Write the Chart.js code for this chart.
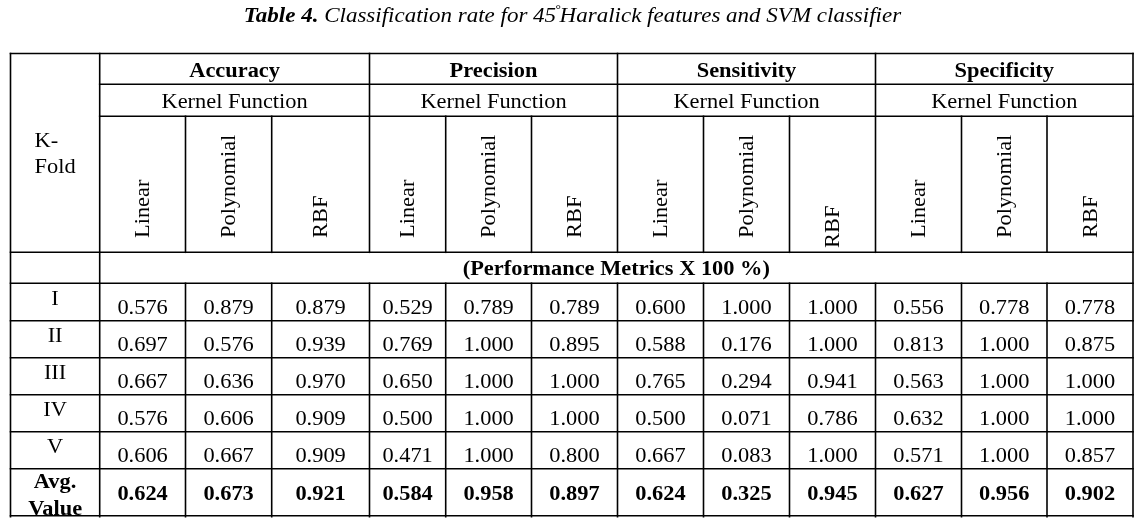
<!DOCTYPE html>
<html><head><meta charset="utf-8">
<script src="https://cdn.jsdelivr.net/npm/chart.js@4.4.0/dist/chart.umd.min.js"></script>
<style>html,body{margin:0;padding:0;background:#fff;overflow:hidden;}</style>
</head><body>
<canvas id="c" width="1140" height="524"></canvas>
<script>
// ---------------- DATA ----------------
const titleBold = 'Table 4.';
const titleText = ' Classification rate for 45';
const titleDegree = '°';
const titleTail = 'Haralick features and SVM classifier';
const metrics = ['Accuracy', 'Precision', 'Sensitivity', 'Specificity'];
const kernelHeader = 'Kernel Function';
const kernels = ['Linear', 'Polynomial', 'RBF'];
const foldHeader = ['K-', 'Fold'];
const unitsLabel = '(Performance Metrics X 100 %)';
const folds = ['I', 'II', 'III', 'IV', 'V'];
const avgLabel = ['Avg.', 'Value'];

const accuracyLinear     = [0.576, 0.697, 0.667, 0.576, 0.606];
const accuracyPoly       = [0.879, 0.576, 0.636, 0.606, 0.667];
const accuracyRBF        = [0.879, 0.939, 0.970, 0.909, 0.909];
const precisionLinear    = [0.529, 0.769, 0.650, 0.500, 0.471];
const precisionPoly      = [0.789, 1.000, 1.000, 1.000, 1.000];
const precisionRBF       = [0.789, 0.895, 1.000, 1.000, 0.800];
const sensitivityLinear  = [0.600, 0.588, 0.765, 0.500, 0.667];
const sensitivityPoly    = [1.000, 0.176, 0.294, 0.071, 0.083];
const sensitivityRBF     = [1.000, 1.000, 0.941, 0.786, 1.000];
const specificityLinear  = [0.556, 0.813, 0.563, 0.632, 0.571];
const specificityPoly    = [0.778, 1.000, 1.000, 1.000, 1.000];
const specificityRBF     = [0.778, 0.875, 1.000, 1.000, 0.857];
const avgValues = [0.624, 0.673, 0.921, 0.584, 0.958, 0.897, 0.624, 0.325, 0.945, 0.627, 0.956, 0.902];

// ---------------- LAYOUT ----------------
const columnSeries = [accuracyLinear, accuracyPoly, accuracyRBF, precisionLinear, precisionPoly, precisionRBF,
  sensitivityLinear, sensitivityPoly, sensitivityRBF, specificityLinear, specificityPoly, specificityRBF];
const colEdges = [10.5, 99.7, 185.5, 271.7, 369.5, 445.7, 531.5, 617.5, 703.5, 789.5, 875.5, 961.5, 1047, 1133];
const rowEdges = [53.5, 84.3, 116.3, 252.3, 283.3, 320.7, 357.7, 394.7, 431.7, 468.7, 515.7];
const rotOffset = [0, 0, 0, 0, 0, 0, 0, 0, 10, 0, 0, 0];
const SX = 1.12;
const TITLE_SX = 1.15;
const FONT = '"Liberation Serif", "Times New Roman", serif';

const colCenter = c => (colEdges[c] + colEdges[c + 1]) / 2;

const datasets = columnSeries.map((vals, c) => ({
  label: metrics[Math.floor(c / 3)] + ' ' + kernels[c % 3],
  data: vals.concat([avgValues[c]]).map((v, i) => ({ x: colCenter(c + 1), y: rowEdges[5 + i], v: v, bold: i === vals.length })),
  pointRadius: 0, showLine: false
}));

function txt(ctx, s, x, y, size, weight, align, rot, style, sx) {
  ctx.save();
  ctx.translate(x, y);
  if (rot) ctx.rotate(-Math.PI / 2);
  ctx.scale(sx || SX, 1);
  ctx.font = (style || '') + ' ' + (weight || 'normal') + ' ' + size + 'px ' + FONT;
  ctx.textAlign = align || 'center';
  ctx.textBaseline = 'alphabetic';
  ctx.fillStyle = '#000';
  ctx.fillText(s, 0, 0);
  ctx.restore();
}
function tw(ctx, s, size, weight, style, sx) {
  ctx.save();
  ctx.font = (style || '') + ' ' + (weight || 'normal') + ' ' + size + 'px ' + FONT;
  const w = ctx.measureText(s).width * (sx || SX);
  ctx.restore();
  return w;
}

const tablePlugin = {
  id: 'table',
  afterDatasetsDraw(chart) {
    const ctx = chart.ctx;
    const xs = chart.scales.x, ys = chart.scales.y;
    const X = v => xs.getPixelForValue(v), Y = v => ys.getPixelForValue(v);
    const ca = chart.chartArea;

    // title
    const w1 = tw(ctx, titleBold, 20, 'bold', 'italic', TITLE_SX);
    const w2 = tw(ctx, titleText, 20, 'normal', 'italic', TITLE_SX);
    const w3 = tw(ctx, titleDegree, 12, 'normal', 'italic', TITLE_SX);
    const w4 = tw(ctx, titleTail, 20, 'normal', 'italic', TITLE_SX);
    let tx = 572.5 - (w1 + w2 + w3 + w4 - 2) / 2;
    const tb = 21.7;
    txt(ctx, titleBold, tx, tb, 20, 'bold', 'left', false, 'italic', TITLE_SX); tx += w1;
    txt(ctx, titleText, tx, tb, 20, 'normal', 'left', false, 'italic', TITLE_SX); tx += w2;
    txt(ctx, titleDegree, tx - 1, tb - 9, 12, 'normal', 'left', false, 'italic', TITLE_SX); tx += w3 - 2;
    txt(ctx, titleTail, tx, tb, 20, 'normal', 'left', false, 'italic', TITLE_SX);

    ctx.save();
    ctx.beginPath();
    ctx.rect(ca.left, ca.top, ca.right - ca.left, ca.bottom - ca.top);
    ctx.clip();

    // headers
    metrics.forEach((m, g) => {
      const cx = (X(colEdges[1 + g * 3]) + X(colEdges[4 + g * 3])) / 2;
      txt(ctx, m, cx, Y(rowEdges[1]) - 7.2, 20, 'bold');
      txt(ctx, kernelHeader, cx, Y(rowEdges[2]) - 8, 20, 'normal');
    });
    for (let c = 0; c < 12; c++) {
      const cx = X(colCenter(c + 1));
      txt(ctx, kernels[c % 3], cx + 6.5, Y(rowEdges[3]) - 14.3 + rotOffset[c], 20, 'normal', 'left', true);
    }
    const fx = X(colCenter(0));
    const foldW = tw(ctx, foldHeader[1], 20, 'normal');
    txt(ctx, foldHeader[0], fx - foldW / 2, 147.3, 20, 'normal', 'left');
    txt(ctx, foldHeader[1], fx, 172.7, 20, 'normal');
    txt(ctx, unitsLabel, (X(colEdges[1]) + X(colEdges[13])) / 2, Y(rowEdges[4]) - 8.3, 20, 'bold');

    // row labels
    folds.forEach((f, i) => txt(ctx, f, fx, Y(rowEdges[4 + i]) + 21.5, 20, 'normal'));
    txt(ctx, avgLabel[0], fx, Y(rowEdges[9]) + 19.7, 20, 'bold');
    txt(ctx, avgLabel[1], fx, Y(rowEdges[9]) + 46, 20, 'bold');

    // values from dataset elements
    chart.data.datasets.forEach((ds, di) => {
      const meta = chart.getDatasetMeta(di);
      meta.data.forEach((el, i) => {
        const d = ds.data[i];
        if (d.bold) txt(ctx, d.v.toFixed(3), el.x, el.y - 15.7, 20, 'bold');
        else txt(ctx, d.v.toFixed(3), el.x, el.y - 6.8, 20, 'normal');
      });
    });
    ctx.restore();

    // grid lines
    ctx.save();
    ctx.strokeStyle = '#000';
    ctx.lineWidth = 1.6;
    const h = (y, x0, x1) => { ctx.beginPath(); ctx.moveTo(X(x0) - 0.8, Y(y)); ctx.lineTo(X(x1) + 0.8, Y(y)); ctx.stroke(); };
    const v = (x, y0, y1, ext) => { ctx.beginPath(); ctx.moveTo(X(x), Y(y0) - 0.8); ctx.lineTo(X(x), Y(y1) + 0.8 + (ext || 0)); ctx.stroke(); };
    const L = colEdges[0], R = colEdges[13];
    h(rowEdges[0], L, R);
    h(rowEdges[1], colEdges[1], R);
    h(rowEdges[2], colEdges[1], R);
    for (let r = 3; r < rowEdges.length; r++) h(rowEdges[r], L, R);
    const B = rowEdges[rowEdges.length - 1];
    v(L, rowEdges[0], B, 1);
    v(R, rowEdges[0], B, 1);
    v(colEdges[1], rowEdges[0], B, 1);
    for (let c = 2; c < 13; c++) {
      const top = ((c - 1) % 3 === 0) ? rowEdges[0] : rowEdges[2];
      v(colEdges[c], top, rowEdges[3]);
      v(colEdges[c], rowEdges[4], B, 1);
    }
    ctx.restore();
  }
};

new Chart(document.getElementById('c'), {
  type: 'scatter',
  data: { datasets: datasets },
  options: {
    responsive: false,
    animation: false,
    layout: { padding: { left: colEdges[0], right: 1140 - colEdges[13], top: rowEdges[0], bottom: 524 - rowEdges[10] } },
    plugins: { legend: { display: false }, tooltip: { enabled: false }, title: { display: false } },
    scales: {
      x: { type: 'linear', display: false, min: colEdges[0], max: colEdges[13] },
      y: { type: 'linear', display: false, reverse: true, min: rowEdges[0], max: rowEdges[10] }
    }
  },
  plugins: [tablePlugin]
});
</script>
</body></html>
